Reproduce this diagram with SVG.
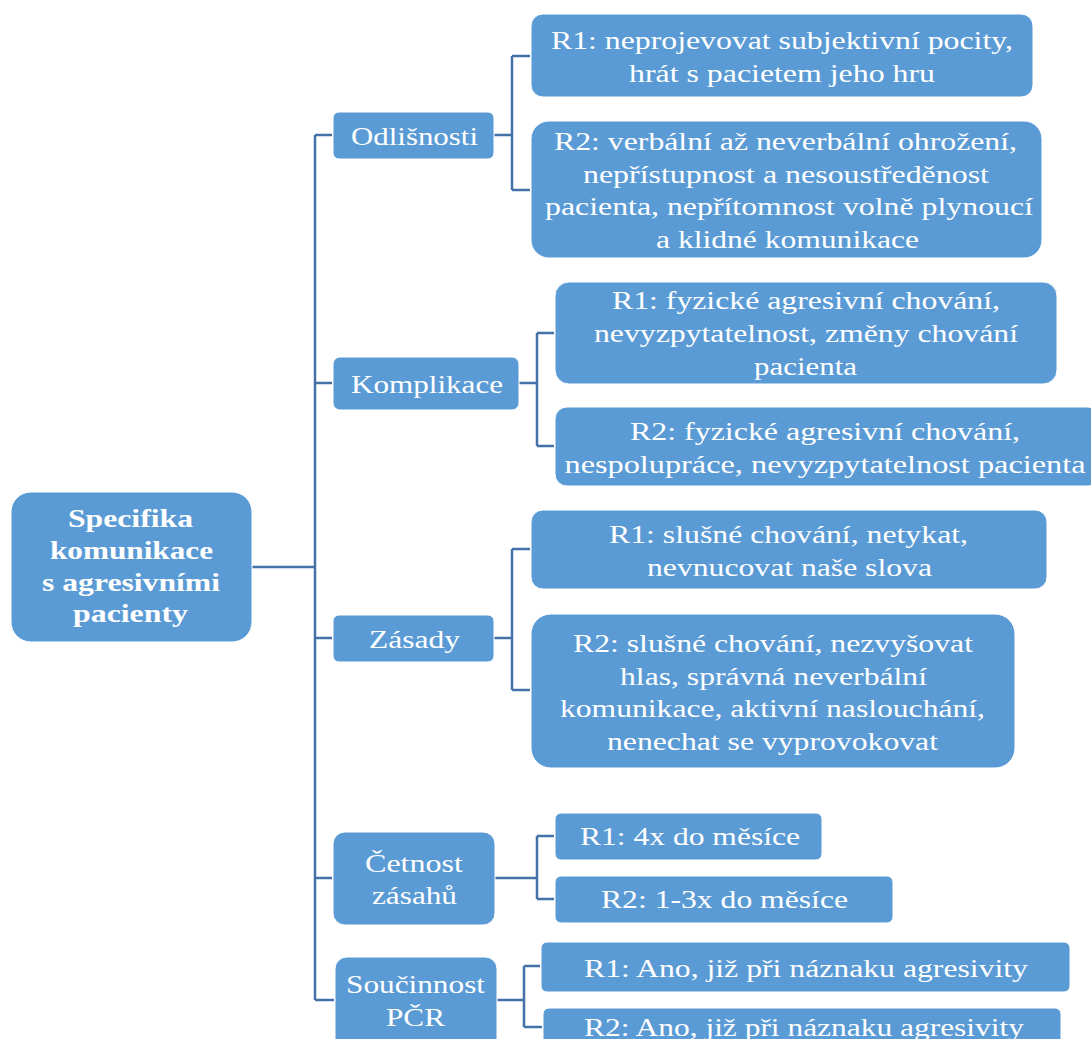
<svg xmlns="http://www.w3.org/2000/svg" width="1091" height="1039" viewBox="0 0 1091 1039">
<style>
.box{fill:#5B9BD5;stroke:#ffffff;stroke-width:1}
.t{font-family:'Liberation Serif','Times New Roman',serif;font-size:26px;fill:#ffffff;text-anchor:middle}
.b{font-weight:bold}
.c{fill:none;stroke:#4472A8;stroke-width:2.5}
</style>
<rect width="1091" height="1039" fill="#ffffff"/>
<g id="connectors">
<path class="c" d="M252,567 H315 M315,135 V1000 M315,135 H332 M315,383 H332 M315,638 H332 M315,878 H332 M315,1000 H334"/>
<path class="c" d="M494,135 H512 M512,56 V190 M512,56 H530 M512,190 H530"/>
<path class="c" d="M519,383 H537 M537,333 V446 M537,333 H554 M537,446 H554"/>
<path class="c" d="M494,638 H512 M512,549 V690 M512,549 H530 M512,690 H530"/>
<path class="c" d="M495,878 H537 M537,836 V899 M537,836 H554 M537,899 H554"/>
<path class="c" d="M497,1000 H524 M524,966 V1027 M524,966 H540 M524,1027 H542"/>
</g>
<g id="root">
<rect class="box" x="11" y="492" width="241" height="150" rx="20"/>
<text class="t b" x="130.5" y="527" textLength="125" lengthAdjust="spacingAndGlyphs">Specifika</text>
<text class="t b" x="131.5" y="559" textLength="163" lengthAdjust="spacingAndGlyphs">komunikace</text>
<text class="t b" x="131" y="591" textLength="178" lengthAdjust="spacingAndGlyphs">s agresivními</text>
<text class="t b" x="130.5" y="622" textLength="115" lengthAdjust="spacingAndGlyphs">pacienty</text>
</g>
<g id="odlisnosti">
<rect class="box" x="333" y="112" width="161" height="47" rx="6"/>
<text class="t" x="414.5" y="145" textLength="127" lengthAdjust="spacingAndGlyphs">Odlišnosti</text>
</g>
<g id="odl-r1">
<rect class="box" x="531" y="14" width="502" height="83" rx="12"/>
<text class="t" x="782" y="49" textLength="462" lengthAdjust="spacingAndGlyphs">R1: neprojevovat subjektivní pocity,</text>
<text class="t" x="782" y="82" textLength="306" lengthAdjust="spacingAndGlyphs">hrát s pacietem jeho hru</text>
</g>
<g id="odl-r2">
<rect class="box" x="531" y="121" width="511" height="137" rx="18"/>
<text class="t" x="785.5" y="150" textLength="463" lengthAdjust="spacingAndGlyphs">R2: verbální až neverbální ohrožení,</text>
<text class="t" x="786" y="183" textLength="406" lengthAdjust="spacingAndGlyphs">nepřístupnost a nesoustředěnost</text>
<text class="t" x="789" y="215" textLength="488" lengthAdjust="spacingAndGlyphs">pacienta, nepřítomnost volně plynoucí</text>
<text class="t" x="787.5" y="248" textLength="263" lengthAdjust="spacingAndGlyphs">a klidné komunikace</text>
</g>
<g id="komplikace">
<rect class="box" x="333" y="357" width="186" height="53" rx="7"/>
<text class="t" x="427" y="393" textLength="152" lengthAdjust="spacingAndGlyphs">Komplikace</text>
</g>
<g id="kom-r1">
<rect class="box" x="555" y="282" width="502" height="102" rx="14"/>
<text class="t" x="806" y="309" textLength="388" lengthAdjust="spacingAndGlyphs">R1: fyzické agresivní chování,</text>
<text class="t" x="806" y="342" textLength="424" lengthAdjust="spacingAndGlyphs">nevyzpytatelnost, změny chování</text>
<text class="t" x="805.5" y="375" textLength="103" lengthAdjust="spacingAndGlyphs">pacienta</text>
</g>
<g id="kom-r2">
<rect class="box" x="555" y="407" width="545" height="79" rx="12"/>
<text class="t" x="825" y="440" textLength="390" lengthAdjust="spacingAndGlyphs">R2: fyzické agresivní chování,</text>
<text class="t" x="825" y="473" textLength="521" lengthAdjust="spacingAndGlyphs">nespolupráce, nevyzpytatelnost pacienta</text>
</g>
<g id="zasady">
<rect class="box" x="333" y="615" width="161" height="47" rx="6"/>
<text class="t" x="414.5" y="648" textLength="91" lengthAdjust="spacingAndGlyphs">Zásady</text>
</g>
<g id="zas-r1">
<rect class="box" x="531" y="510" width="516" height="79" rx="12"/>
<text class="t" x="788.5" y="543" textLength="359" lengthAdjust="spacingAndGlyphs">R1: slušné chování, netykat,</text>
<text class="t" x="789.5" y="576" textLength="285" lengthAdjust="spacingAndGlyphs">nevnucovat naše slova</text>
</g>
<g id="zas-r2">
<rect class="box" x="531" y="614" width="484" height="154" rx="20"/>
<text class="t" x="773" y="652" textLength="400" lengthAdjust="spacingAndGlyphs">R2: slušné chování, nezvyšovat</text>
<text class="t" x="773.5" y="685" textLength="307" lengthAdjust="spacingAndGlyphs">hlas, správná neverbální</text>
<text class="t" x="772.5" y="717" textLength="425" lengthAdjust="spacingAndGlyphs">komunikace, aktivní naslouchání,</text>
<text class="t" x="772.5" y="750" textLength="331" lengthAdjust="spacingAndGlyphs">nenechat se vyprovokovat</text>
</g>
<g id="cetnost">
<rect class="box" x="333" y="832" width="162" height="93" rx="12"/>
<text class="t" x="414" y="872" textLength="98" lengthAdjust="spacingAndGlyphs">Četnost</text>
<text class="t" x="414.5" y="904" textLength="85" lengthAdjust="spacingAndGlyphs">zásahů</text>
</g>
<g id="cet-r1">
<rect class="box" x="555" y="813" width="267" height="47" rx="6"/>
<text class="t" x="690" y="845" textLength="220" lengthAdjust="spacingAndGlyphs">R1: 4x do měsíce</text>
</g>
<g id="cet-r2">
<rect class="box" x="555" y="876" width="338" height="47" rx="6"/>
<text class="t" x="724.5" y="908" textLength="247" lengthAdjust="spacingAndGlyphs">R2: 1-3x do měsíce</text>
</g>
<g id="soucinnost">
<rect class="box" x="335" y="957" width="162" height="100" rx="12"/>
<text class="t" x="415.5" y="993" textLength="139" lengthAdjust="spacingAndGlyphs">Součinnost</text>
<text class="t" x="415.5" y="1026" textLength="59" lengthAdjust="spacingAndGlyphs">PČR</text>
</g>
<g id="sou-r1">
<rect class="box" x="541" y="942" width="529" height="50" rx="6"/>
<text class="t" x="806" y="977" textLength="444" lengthAdjust="spacingAndGlyphs">R1: Ano, již při náznaku agresivity</text>
</g>
<g id="sou-r2">
<rect class="box" x="543" y="1008" width="518" height="50" rx="6"/>
<text class="t" x="804" y="1036" textLength="440" lengthAdjust="spacingAndGlyphs">R2: Ano, již při náznaku agresivity</text>
</g>
</svg>
